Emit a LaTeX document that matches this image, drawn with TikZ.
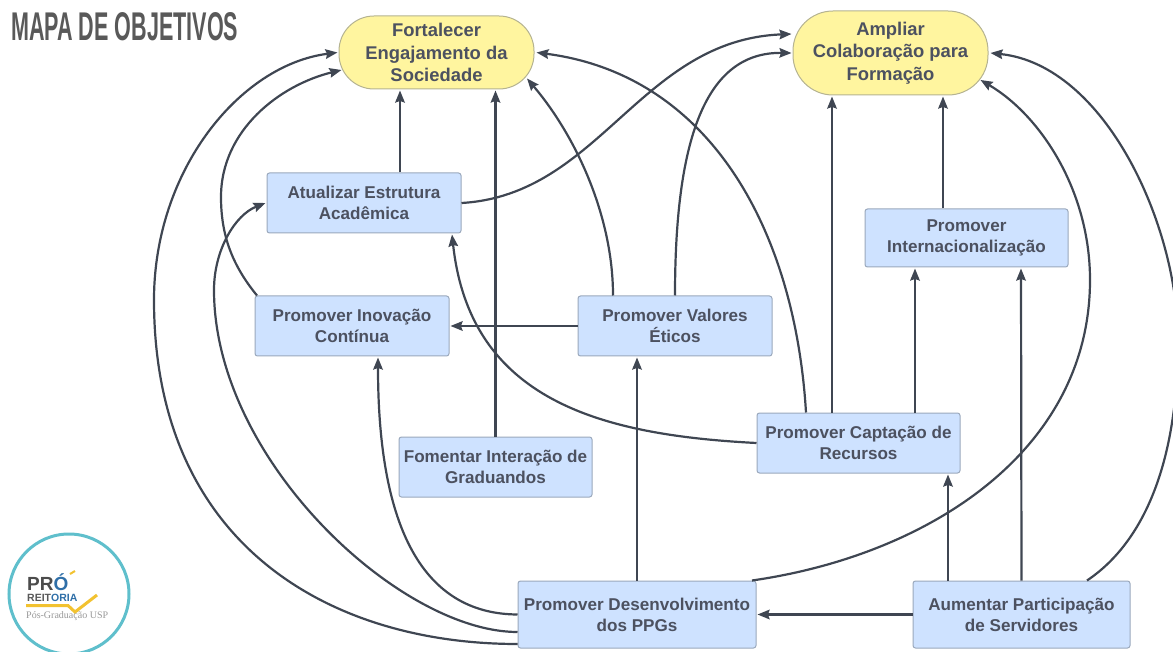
\documentclass[tikz,border=0pt]{standalone}
\usepackage{fontspec}
\usepackage{graphicx}
\setmainfont{Liberation Sans}
\newfontfamily\serifn{Liberation Serif}
\usetikzlibrary{arrows.meta}
\definecolor{txt}{HTML}{4C5160}
\definecolor{edge}{HTML}{3F4652}
\definecolor{boxf}{HTML}{CEE2FF}
\definecolor{boxd}{HTML}{9AA8BC}
\definecolor{yel}{HTML}{FFF59F}
\definecolor{yeld}{HTML}{B5B391}
\definecolor{ring}{HTML}{5FBFCC}
\definecolor{checky}{HTML}{F2C230}
\definecolor{problue}{HTML}{2F6FA8}
\tikzset{
  boxn/.style={draw=boxd,fill=boxf,line width=1pt,rounded corners=2.5pt,inner sep=0pt,align=center,text=txt,font=\fontsize{17.1}{21}\selectfont\bfseries},
  goal/.style={draw=yeld,fill=yel,line width=1pt,rounded corners=35pt,inner sep=0pt,align=center,text=txt,font=\fontsize{18.4}{22.5}\selectfont\bfseries},
  arr/.style={draw=edge,line width=2.2pt,-{Stealth[length=12pt,width=9.5pt,inset=1.5pt]}},
  titlen/.style={inner sep=0pt,text=black!65,anchor=north west},
  logon/.style={inner sep=0pt,anchor=west}
}
\begin{document}
\begin{tikzpicture}[x=1pt,y=-1pt]
\useasboundingbox (0,0) rectangle (1173,652);
\clip (0,0) rectangle (1173,652);
\node[titlen] (title) at (11,12) {\resizebox{227pt}{28pt}{\bfseries MAPA DE OBJETIVOS}};
% nodes
\node[goal,minimum width=195pt,minimum height=73pt] (fort) at (436.5,52.5) {Fortalecer\\Engajamento da\\Sociedade};
\node[goal,minimum width=195pt,minimum height=84pt,rounded corners=40pt] (ampl) at (890.5,53) {Ampliar\\Colaboração para\\Formação};
\node[boxn,minimum width=194pt,minimum height=60pt] (atual) at (364,203) {Atualizar Estrutura\\Acadêmica};
\node[boxn,minimum width=203pt,minimum height=58pt] (inter) at (966.5,238) {Promover\\Internacionalização};
\node[boxn,minimum width=194pt,minimum height=60pt] (inov) at (352,326) {Promover Inovação\\Contínua};
\node[boxn,minimum width=194pt,minimum height=60pt] (val) at (675,326) {Promover Valores\\Éticos};
\node[boxn,minimum width=203pt,minimum height=60pt] (capt) at (858.5,443) {Promover Captação de\\Recursos};
\node[boxn,minimum width=193pt,minimum height=60pt] (fom) at (495.5,467) {Fomentar Interação de\\Graduandos};
\node[boxn,minimum width=238pt,minimum height=67pt] (ppg) at (637,614.5) {Promover Desenvolvimento\\dos PPGs};
\node[boxn,minimum width=217pt,minimum height=67pt] (serv) at (1021.5,614.5) {Aumentar Participação\\de Servidores};
% straight connectors
\draw[arr] ([xshift=36pt]atual.north) -- ([xshift=-36.5pt,yshift=-1pt]fort.south);
\draw[arr] (fom.north) -- ([xshift=59pt,yshift=-1pt]fort.south);
\draw[arr] ([xshift=-26.5pt]capt.north) -- ([xshift=-58.5pt,yshift=-1pt]ampl.south);
\draw[arr] ([xshift=56.5pt]capt.north) -- ([xshift=-51.5pt,yshift=-1pt]inter.south);
\draw[arr] ([xshift=-23.5pt]inter.north) -- ([xshift=52.5pt,yshift=-1pt]ampl.south);
\draw[arr] (val.west) -- ([xshift=1pt]inov.east);
\draw[arr] (ppg.north) -- ([yshift=-1pt]val.south -| ppg.north);
\draw[arr] ([xshift=-73.5pt]serv.north) -- ([xshift=89.5pt,yshift=-1pt]capt.south);
\draw[arr] (serv.north) -- ([xshift=54.5pt,yshift=-1pt]inter.south);
\draw[arr] (serv.west) -- ([xshift=1pt]ppg.east);
% curved connectors
\draw[arr] ([yshift=-29.5pt]ppg.west) .. controls (330,644) and (154,545) .. (154,300) .. controls (154,170) and (240,65) .. ([xshift=-1pt]fort.west);
\draw[arr] ([yshift=-17.5pt]ppg.west) .. controls (400,632) and (214,460) .. (214,290) .. controls (214,250) and (235,215) .. ([xshift=-1pt]atual.west);
\draw[arr] (ppg.west) .. controls (430,614) and (378,540) .. ([xshift=26pt,yshift=-1pt]inov.south);
\draw[arr] ([xshift=-95pt]inov.north) .. controls (232,265) and (221,235) .. (221,197) .. controls (221,130) and (280,85) .. ([xshift=3pt,yshift=-17.5pt]fort.west);
\draw[arr] (atual.east) .. controls (600,195) and (640,40) .. ([xshift=-1pt,yshift=19pt]ampl.west);
\draw[arr] ([xshift=-62pt]val.north) .. controls (613,215) and (575,135) .. ([xshift=90.5pt,yshift=11pt]fort.south);
\draw[arr] (val.north) .. controls (675,140) and (705,52) .. ([xshift=-1pt]ampl.west);
\draw[arr] ([xshift=-52.5pt]capt.north) .. controls (795,230) and (710,75) .. ([xshift=2pt]fort.east);
\draw[arr] (capt.west) .. controls (600,435) and (470,400) .. ([xshift=88pt,yshift=-1pt]atual.south);
\draw[arr] ([xshift=115pt]ppg.north) .. controls (930,555) and (1090,450) .. (1090,280) .. controls (1090,190) and (1040,115) .. ([xshift=-8pt,yshift=-27pt]ampl.east);
\draw[arr] ([xshift=65.5pt]serv.north) .. controls (1140,545) and (1178,470) .. (1178,340) .. controls (1178,225) and (1105,65) .. ([xshift=2pt]ampl.east);
% logo
\node[draw=ring,line width=3pt,circle,minimum size=120pt,inner sep=0pt,fill=white] (ringn) at (69,594) {};
\draw[draw=checky,line width=3pt] (26,605.5) -- (68,605.5) -- (75,612) -- (97,595);
\draw[draw=checky,line width=2pt] (70,574) -- (75,571);
\node[logon,font=\fontsize{19}{19}\selectfont\bfseries,text=black!70] (pro) at (27,582) {PR\textcolor{problue}{Ó}};
\node[logon,font=\fontsize{10.5}{10.5}\selectfont\bfseries,text=black!65] (reit) at (27,598) {REIT\textcolor{problue}{ORIA}};
\node[logon,font=\fontsize{10}{10}\selectfont\serifn,text=black!40] (pos) at (26,616.5) {Pós-Graduação USP};
\end{tikzpicture}
\end{document}
